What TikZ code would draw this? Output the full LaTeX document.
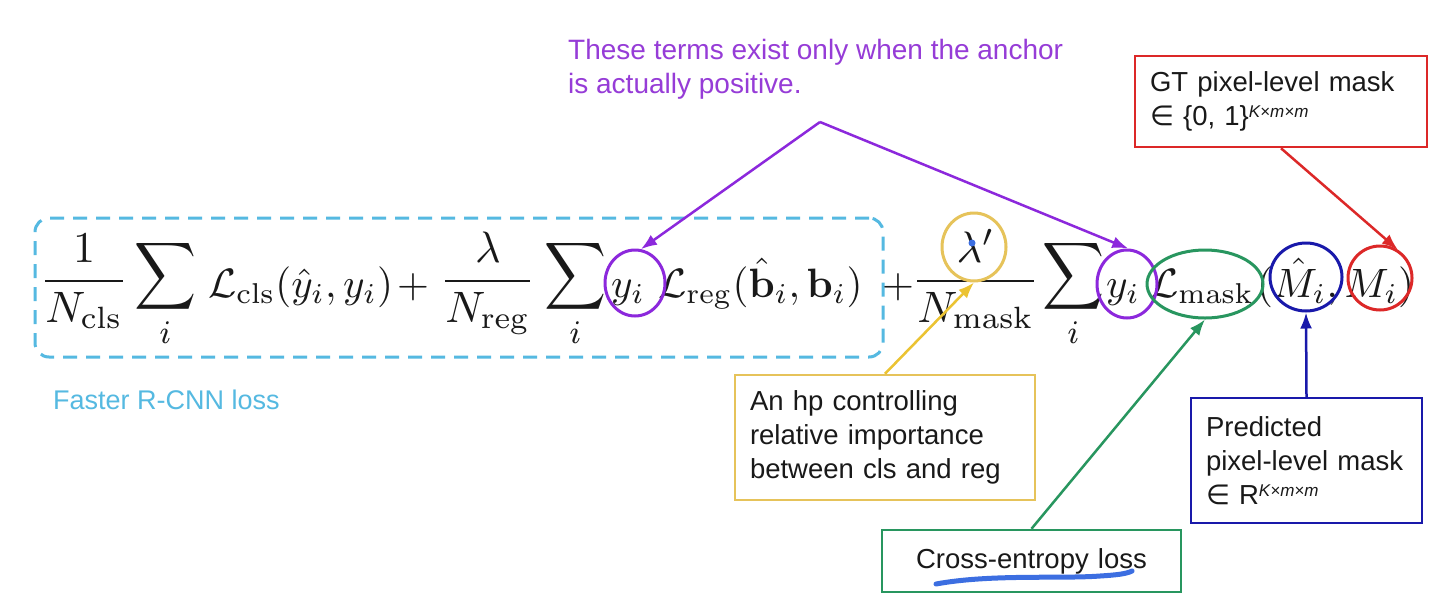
\documentclass[tikz,border=0pt]{standalone}
\usepackage{amsmath}
\usepackage[no-math]{fontspec}
\setmainfont{Liberation Sans}
\newfontfamily\dejavu{DejaVu Sans}
\usetikzlibrary{shapes.geometric,arrows.meta}
\definecolor{ink}{RGB}{25,25,25}
\definecolor{purpt}{RGB}{150,60,215}
\definecolor{purpl}{RGB}{140,40,220}
\definecolor{cyanb}{RGB}{85,185,225}
\definecolor{yelb}{RGB}{230,195,90}
\definecolor{yela}{RGB}{235,195,50}
\definecolor{greenb}{RGB}{40,150,95}
\definecolor{blueb}{RGB}{25,25,170}
\definecolor{redb}{RGB}{220,40,40}
\definecolor{marker}{RGB}{60,110,225}
\newcommand\mysup[1]{\raisebox{8pt}{\fontsize{17}{17}\selectfont\itshape #1}}
\newcommand\myin{{\dejavu ∈}}
\tikzset{
  fm/.style={inner sep=0pt, anchor=base west, text=ink},
  ring/.style={ellipse, draw, line width=3pt, inner sep=0pt},
  lbl/.style={draw, line width=2.5pt, inner xsep=15pt, inner ysep=0pt, align=left,
    font=\fontsize{27.5}{34}\selectfont, text=ink},
  arr/.style={line width=2.5pt, -{Latex[length=16pt,width=12pt]}},
}
\begin{document}
\begin{tikzpicture}[x=1pt,y=-1pt]
\useasboundingbox[fill=white] (0,0) rectangle (1440,611);

% Faster R-CNN dashed box
\node[draw=cyanb, line width=3pt, dash pattern=on 14pt off 9pt, rounded corners=14pt,
  minimum width=848, minimum height=139, inner sep=0pt] (frbox) at (459,287.5) {};
\node[anchor=west, inner sep=0pt, text=cyanb, font=\fontsize{27}{32}\selectfont] (frlbl) at (53,400) {Faster R-CNN loss};

% formula pieces
\node[fm] (f1) at (40,292) {\scalebox{4.4}{$\displaystyle\frac{1}{N_{\mathrm{cls}}}$}};
\node[fm] (s1) at (134,287.75) {\scalebox{4.3}[4.7]{$\displaystyle\sum_i$}};
\node[fm] (lc) at (208,297) {\scalebox{4.1}{$\mathcal{L}_{\mathrm{cls}}(\hat{y}_i, y_i)$}};
\node[fm] (p1) at (397,297) {\scalebox{4.1}{$+$}};
\node[fm] (f2) at (440,292) {\scalebox{4.4}{$\displaystyle\frac{\lambda}{N_{\mathrm{reg}}}$}};
\node[fm] (s2) at (544,287.75) {\scalebox{4.3}[4.7]{$\displaystyle\sum_i$}};
\node[fm] (y1) at (611,297) {\scalebox{4.1}{$y_i$}};
\node[fm] (lr) at (658,297) {\scalebox{4.1}{$\mathcal{L}_{\mathrm{reg}}(\hat{\mathbf{b}}_i, \mathbf{b}_i)$}};
\node[fm] (p2) at (882,297) {\scalebox{4.1}{$+$}};
\node[fm] (f3) at (912,292) {\scalebox{4.4}{$\displaystyle\frac{\lambda'}{N_{\mathrm{mask}}}$}};
\node[fm] (s3) at (1042,287.75) {\scalebox{4.3}[4.7]{$\displaystyle\sum_i$}};
\node[fm] (y2) at (1106,297) {\scalebox{4.1}{$y_i$}};
\node[fm] (lm) at (1150,297) {\scalebox{4.1}{$\mathcal{L}_{\mathrm{mask}}$}};
\node[fm] (mm) at (1257,297) {\scalebox{4.1}{$(\hat{M}_i, M_i)$}};

% rings
\node[ring, draw=purpl, minimum width=60, minimum height=66] (yc1) at (635,283) {};
\node[ring, draw=yelb, minimum width=64, minimum height=68] (lamc) at (974,247) {};
\node[ring, draw=purpl, minimum width=60, minimum height=68] (yc2) at (1127,284) {};
\node[ring, draw=greenb, minimum width=116, minimum height=68] (mc) at (1205,284) {};
\node[ring, draw=blueb, minimum width=72, minimum height=68] (bc) at (1306,277) {};
\node[ring, draw=redb, minimum width=64, minimum height=64] (rc) at (1380,278) {};
\fill[marker] (972,243) circle (3.5);

% purple annotation
\node[anchor=north west, inner sep=0pt, align=left, text=purpt,
  font=\fontsize{28}{34}\selectfont] (ptxt) at (568,39) {These terms exist only when the anchor\\is actually positive.};
\coordinate (apex) at (820,122);
\draw[arr, draw=purpl, fill=purpl] (apex) -- (yc1.80);
\draw[arr, draw=purpl, fill=purpl] (apex) -- (yc2.88);

% red box
\node[lbl, draw=redb, text width=262, minimum height=91] (rbox) at (1281,101.5)
  {GT pixel-level mask\\\myin\ \{0, 1\}\mysup{K×m×m}};
\draw[arr, draw=redb, fill=redb] (rbox.south) -- (rc.58);

% yellow box
\node[lbl, draw=yelb, text width=270, minimum height=125] (ybox) at (885,437.5)
  {An hp controlling\\relative importance\\between cls and reg};
\draw[arr, draw=yela, fill=yela] (ybox.north) -- (lamc.south);

% green box
\node[lbl, draw=greenb, align=center, text width=269, minimum height=62] (gbox) at (1031.5,561)
  {Cross-entropy loss};
\draw[arr, draw=greenb, fill=greenb] (gbox.north) -- (mc.south);
\draw[marker, line width=5pt, line cap=round] (936,584) .. controls (990,574) and (1060,579) .. (1100,576) .. controls (1116,575) and (1126,574) .. (1132,571);

% blue box
\node[lbl, draw=blueb, text width=201, minimum height=125] (bbox) at (1306.5,460.5)
  {Predicted\\pixel-level mask\\\myin\ R\mysup{K×m×m}};
\draw[arr, draw=blueb, fill=blueb] (bbox.north) -- (bc.south);
\end{tikzpicture}
\end{document}
